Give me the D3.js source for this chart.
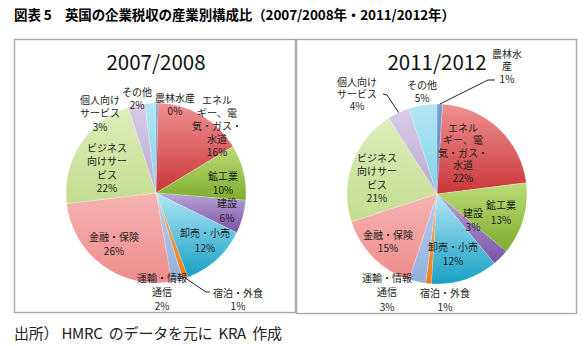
<!DOCTYPE html>
<html>
<head>
<meta charset="utf-8">
<script src="https://cdn.jsdelivr.net/npm/d3@7"></script>
<style>
  body { margin: 0; background: #fff; }
  text { font-family: "Noto Sans CJK JP", "Noto Sans", sans-serif; }
</style>
</head>
<body>
<div id="chart"></div>
<script>
// Sector names (clockwise from 12 o'clock) and their shares, %
const sectors = ["農林水産", "エネルギー、電気・ガス・水道", "鉱工業", "建設", "卸売・小売",
  "宿泊・外食", "運輸・情報通信", "金融・保険", "ビジネス向けサービス", "個人向けサービス", "その他"];
const share0708 = [0.4, 16, 10, 6, 12, 1, 2, 26, 22, 3, 2];
const share1112 = [1, 22, 13, 3, 12, 1, 3, 15, 21, 4, 5];

// how each sector name is wrapped in the two pies
const lines0708 = [["農林水産"], ["エネル", "ギー、電", "気・ガス・", "水道"], ["鉱工業"], ["建設"], ["卸売・小売"],
  ["宿泊・外食"], ["運輸・情報", "通信"], ["金融・保険"], ["ビジネス", "向けサー", "ビス"], ["個人向け", "サービス"], ["その他"]];
const lines1112 = [["農林水", "産"], ["エネル", "ギー、電", "気・ガス・", "水道"], ["鉱工業"], ["建設"], ["卸売・小売"],
  ["宿泊・外食"], ["運輸・情報", "通信"], ["金融・保険"], ["ビジネス", "向けサー", "ビス"], ["個人向け", "サービス"], ["その他"]];

const width = 588, height = 346;
const radius = 90;

// light top / dark bottom colour for each sector
const colors = [
  ["#7aa3d6", "#4a78b8"], ["#ef9090", "#c93638"], ["#bcdc78", "#7dad2c"], ["#b9a5d6", "#7a52a6"],
  ["#b2e6f6", "#17a0c4"], ["#fbb06c", "#ec7d1a"], ["#b9cdee", "#92b0dc"], ["#f6b3b3", "#ef8c8c"],
  ["#deedbb", "#c3dc8e"], ["#d8cce8", "#bba9d6"], ["#b4e6f5", "#82d0e9"]
];

// label offsets from the pie centre [dx, dy of first line, line height]
const place0708 = [[19, -95, 13], [61, -93, 13], [67, -17, 14], [71, 10, 15], [49, 40, 15], [82, 100, 13],
  [6, 85, 14], [-42, 44, 14], [-49, -45, 13.5], [-56, -93, 13.5], [-19, -101, 13]];
const place1112 = [[70, -140, 12.5], [26, -66, 12.5], [64, 11, 15], [36, 19, 14], [16, 53, 14], [8, 99, 14],
  [-50, 84, 14.5], [-49, 41, 13.5], [-60, -36, 13.5], [-80, -112, 12], [-15, -109, 13]];

const svg = d3.select("#chart").append("svg")
  .attr("width", width)
  .attr("height", height);

const defs = svg.append("defs");
colors.forEach((c, i) => {
  const g = defs.append("linearGradient")
    .attr("id", "grad" + i)
    .attr("x1", 0).attr("y1", 0).attr("x2", 0).attr("y2", 1);
  g.append("stop").attr("offset", "0%").attr("stop-color", c[0]);
  g.append("stop").attr("offset", "100%").attr("stop-color", c[1]);
});

// Figure title
svg.append("text")
  .attr("x", 14)
  .attr("y", 20)
  .attr("font-size", 13.5)
  .attr("font-weight", 700)
  .attr("textLength", 441)
  .attr("lengthAdjust", "spacing")
  .text("図表 5\u3000英国の企業税収の産業別構成比（2007/2008年・2011/2012年）");

// Source note
svg.append("text")
  .attr("x", 14)
  .attr("y", 339)
  .attr("font-size", 15)
  .attr("fill", "#222")
  .attr("textLength", 268)
  .attr("lengthAdjust", "spacing")
  .text("出所）\u00a0HMRC\u00a0\u00a0のデータを元に\u00a0\u00a0KRA\u00a0\u00a0作成");

const pie = d3.pie().sort(null).value(d => d);
const arc = d3.arc().innerRadius(0).outerRadius(radius);
const edge = d3.arc().innerRadius(radius).outerRadius(radius);

function drawPie(opts) {
  const panel = svg.append("g");

  panel.append("rect")
    .attr("x", opts.box[0] + 0.5)
    .attr("y", opts.box[1] + 0.5)
    .attr("width", opts.box[2])
    .attr("height", opts.box[3])
    .attr("fill", "#fff")
    .attr("stroke", "#a9a9a9")
    .attr("stroke-width", 1.4);

  panel.append("text")
    .attr("x", opts.cx)
    .attr("y", 70)
    .attr("text-anchor", "middle")
    .attr("font-family", "Lato, 'Open Sans', sans-serif")
    .attr("font-size", 20.5)
    .attr("fill", "#111")
    .text(opts.title);

  const g = panel.append("g")
    .attr("transform", `translate(${opts.cx},${opts.cy})`);

  const arcs = pie(opts.values);

  g.selectAll("path.slice")
    .data(arcs)
    .enter().append("path")
    .attr("class", "slice")
    .attr("d", arc)
    .attr("fill", (d, i) => `url(#grad${i})`)
    .attr("stroke", "rgba(255,255,255,0.5)")
    .attr("stroke-width", 0.4);

  // leader lines for the small slices
  opts.leaders.forEach(l => {
    const p = edge.centroid(arcs[l.index]);
    const pts = [[p[0] + l.from[0], p[1] + l.from[1]]].concat(l.to);
    g.append("path")
      .attr("d", d3.line()(pts))
      .attr("fill", "none")
      .attr("stroke", "#222")
      .attr("stroke-width", 1);
  });

  arcs.forEach((a, i) => {
    const [dx, dy, lh] = opts.place[i];
    const rows = opts.lines[i].concat([Math.round(a.data) + "%"]);
    rows.forEach((r, k) => {
      g.append("text")
        .attr("x", dx)
        .attr("y", dy + k * lh)
        .attr("dy", "0.35em")
        .attr("text-anchor", "middle")
        .attr("font-size", 10)
        .attr("fill", "#1a1a1a")
        .text(r);
    });
  });
}

drawPie({
  title: "2007/2008", values: share0708, lines: lines0708, place: place0708,
  cx: 156, cy: 193, box: [14, 39, 281, 273],
  leaders: [{ index: 5, from: [0, 0], to: [[50, 99], [54, 99]] }]
});

drawPie({
  title: "2011/2012", values: share1112, lines: lines1112, place: place1112,
  cx: 437, cy: 194, box: [296, 39, 280, 274],
  leaders: [
    { index: 0, from: [0, 0], to: [[51, -114], [58, -114]] },
    { index: 9, from: [0, 0], to: [[-50, -99], [-54, -100]] }
  ]
});
</script>
</body>
</html>
